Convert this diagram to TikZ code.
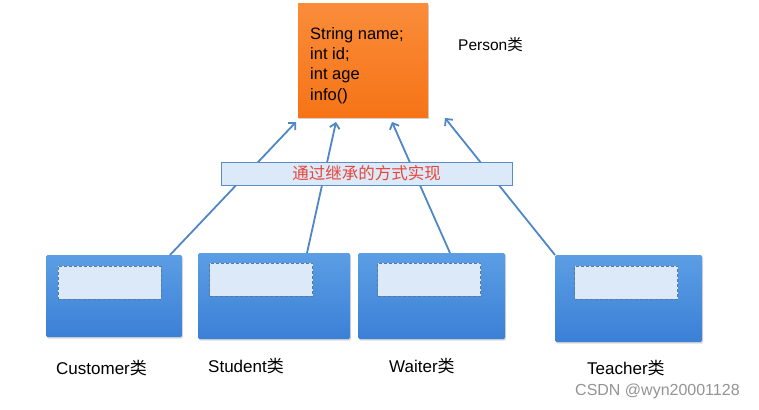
\documentclass[tikz,border=0pt]{standalone}
\usepackage{fontspec}
\setmainfont{Liberation Sans}
\newfontfamily\cjk{Noto Sans CJK SC}
\usetikzlibrary{arrows.meta,shadows}
\definecolor{arrowblue}{RGB}{79,134,198}
\definecolor{barfill}{RGB}{220,233,248}
\definecolor{barline}{RGB}{91,140,200}
\definecolor{redtext}{RGB}{232,70,58}
\definecolor{boxtop}{RGB}{92,158,228}
\definecolor{boxbot}{RGB}{58,128,214}
\definecolor{innerfill}{RGB}{219,233,248}
\definecolor{innerline}{RGB}{90,120,160}
\definecolor{orangetop}{RGB}{250,140,58}
\definecolor{orangebot}{RGB}{246,116,22}
\tikzset{
  parentbox/.style={rectangle, top color=orangetop, bottom color=orangebot, draw=none,
    drop shadow={shadow xshift=1pt, shadow yshift=-1.5pt, opacity=0.35}, inner sep=0pt},
  childbox/.style={rectangle, rounded corners=1.5pt, top color=boxtop, bottom color=boxbot, draw=none,
    drop shadow={shadow xshift=1pt, shadow yshift=-1.5pt, opacity=0.3}, inner sep=0pt},
  innerbox/.style={rectangle, fill=innerfill, draw=innerline, dashed, dash pattern=on 3pt off 2pt,
    line width=0.8pt, inner sep=0pt, minimum width=103pt, minimum height=33pt},
  barbox/.style={rectangle, fill=barfill, draw=barline, line width=1pt, inner sep=0pt},
  inherit/.style={draw=arrowblue, line width=1.8pt, -{Straight Barb[length=5pt,width=10pt]}},
  lbl/.style={anchor=west, inner sep=0pt, font=\fontsize{17}{20}\selectfont},
}
\begin{document}
\begin{tikzpicture}[x=1pt,y=-1pt]
\useasboundingbox[fill=white] (0,0) rectangle (759,409);
% parent
\node[parentbox, minimum width=130pt, minimum height=113pt] (person) at (363,60.5) {};
\node[anchor=north west, inner sep=0pt, align=left, font=\fontsize{16.5}{20.3}\selectfont] (fields) at (310,27) {String name;\\int id;\\int age\\info()};
\node[lbl, font=\fontsize{15.5}{18}\selectfont] (personlbl) at (458,45) {Person{\cjk 类}};
% children
\node[childbox, minimum width=136pt, minimum height=82pt] (cust) at (114,296) {};
\node[childbox, minimum width=152pt, minimum height=86pt] (stud) at (274,296) {};
\node[childbox, minimum width=147pt, minimum height=86pt] (wait) at (431.5,296) {};
\node[childbox, minimum width=147pt, minimum height=87pt] (teach) at (628.5,298.5) {};
\node[innerbox] (custin) at (109.5,282.5) {};
\node[innerbox] (studin) at (261,279.5) {};
\node[innerbox] (waitin) at (429,279.5) {};
\node[innerbox] (teachin) at (626,282.5) {};
% arrow end points
\coordinate (s1) at (170,255);
\coordinate (s2) at (307,253);
\coordinate (s3) at (450,253);
\coordinate (s4) at (555,255);
\coordinate (e1) at (296,122);
\coordinate (e2) at (336,122);
\coordinate (e3) at (392,122);
\coordinate (e4) at (445,118);
\draw[inherit] (s1) -- (e1);
\draw[inherit] (s2) -- (e2);
\draw[inherit] (s3) -- (e3);
\draw[inherit] (s4) -- (e4);
% bar on top
\node[barbox, minimum width=291pt, minimum height=23pt] (bar) at (366.5,173.5)
  {\cjk\fontsize{16.5}{18}\selectfont\color{redtext}通过继承的方式实现};
% labels
\node[lbl] (custlbl) at (56,368) {Customer{\cjk 类}};
\node[lbl] (studlbl) at (208,366) {Student{\cjk 类}};
\node[lbl] (waitlbl) at (389,366) {Waiter{\cjk 类}};
\node[lbl] (teachlbl) at (587,368) {Teacher{\cjk 类}};
\node[lbl, font=\fontsize{16}{18}\selectfont, text=black!42] (wm) at (575,391) {CSDN @wyn20001128};
\end{tikzpicture}
\end{document}
